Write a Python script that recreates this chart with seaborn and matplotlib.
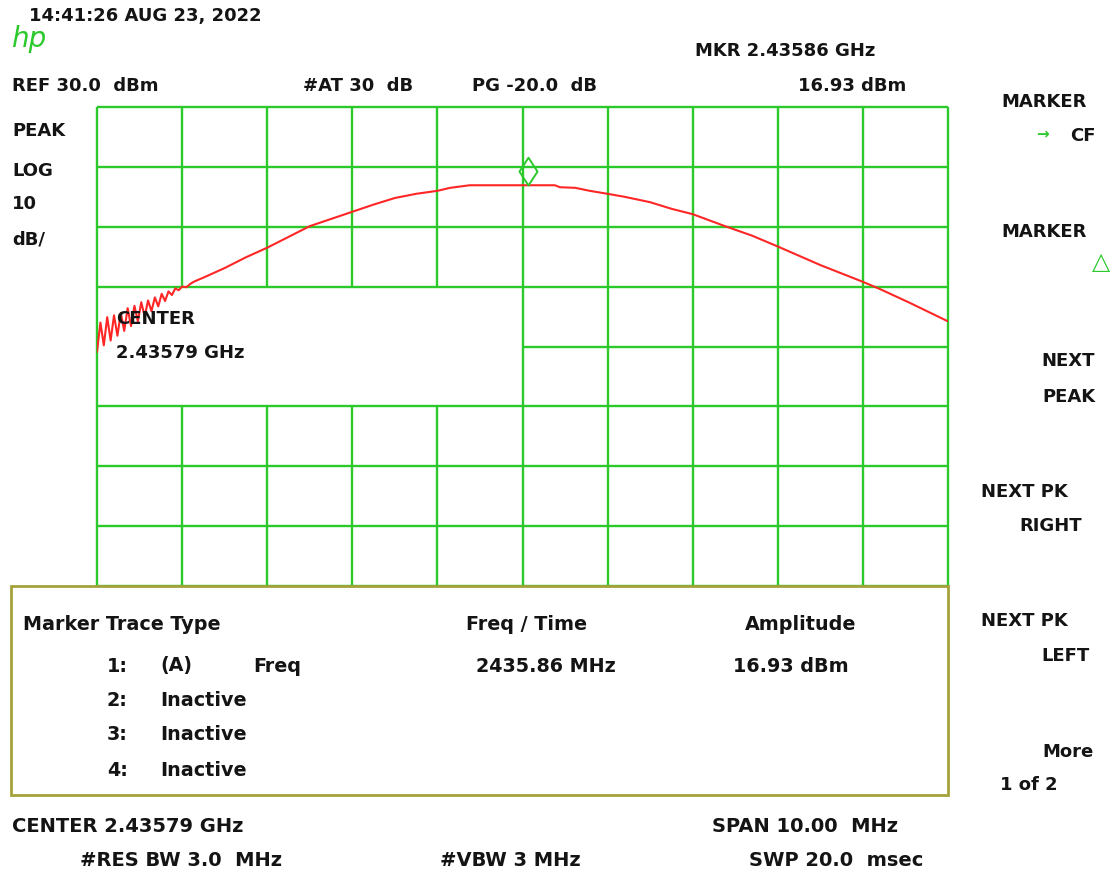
import matplotlib
matplotlib.use("Agg")
import matplotlib.pyplot as plt
import matplotlib.patches as mpatches
from matplotlib.path import Path
import numpy as np
import pandas as pd
import seaborn as sns

# ---- instrument settings ----
center_mhz = 2435.79
span_mhz = 10.0
ref_level_dbm = 30.0
db_per_div = 10.0
n_vdiv = 8
n_hdiv = 10

marker_freq_mhz = 2435.86
marker_amp_dbm = 16.93

# ---- trace (frequency offset from centre in MHz, level in dBm) ----
trace_offset_mhz = [
    -5.00, -4.96, -4.92, -4.88, -4.84, -4.80, -4.76, -4.72, -4.68, -4.64,
    -4.60, -4.56, -4.52, -4.48, -4.44, -4.40, -4.36, -4.32, -4.28, -4.24,
    -4.20, -4.16, -4.12, -4.08, -4.04, -4.00, -3.95, -3.90, -3.85, -3.75,
    -3.50, -3.25, -3.00, -2.75, -2.50, -2.25,
    -2.00, -1.75, -1.50, -1.25, -1.00, -0.85, -0.62, -0.30, 0.07, 0.38,
    0.44, 0.62, 0.79, 1.00, 1.20, 1.50, 1.75, 2.00, 2.38, 2.70,
    3.00, 3.50, 4.00, 4.20, 4.55, 5.00]
trace_dbm = [
    -10.9, -6.0, -9.8, -5.1, -9.0, -4.8, -8.2, -4.4, -7.4, -3.6,
    -6.6, -3.2, -5.8, -2.6, -5.0, -2.3, -4.1, -1.8, -3.3, -1.2,
    -2.4, -0.8, -1.4, -0.3, -0.6, 0.0, -0.1, 0.5, 0.9, 1.5,
    3.1, 4.9, 6.5, 8.3, 10.1, 11.3,
    12.5, 13.7, 14.8, 15.5, 16.0, 16.5, 16.93, 16.93, 16.93, 16.93,
    16.6, 16.5, 16.0, 15.5, 15.0, 14.1, 13.0, 12.1, 10.1, 8.5,
    6.7, 3.6, 0.8, -0.4, -2.7, -5.8]

# ---- annotation texts ----
header_texts = [
    ("14:41:26 AUG 23, 2022", 29, 16),
    ("MKR 2.43586 GHz", 695, 51),
    ("REF 30.0  dBm", 12, 86),
    ("#AT 30  dB", 303, 86),
    ("PG -20.0  dB", 472, 86),
    ("16.93 dBm", 798, 86),
    ("PEAK", 12, 131),
    ("LOG", 12, 171),
    ("10", 12, 204),
    ("dB/", 12, 240),
]
softkey_left = [
    ("MARKER", 1001, 102),
    ("MARKER", 1001, 232),
    ("NEXT PK", 981, 492),
    ("NEXT PK", 981, 621),
    ("1 of 2", 1000, 785),
]
softkey_right = [
    ("CF", 1096, 136),
    ("NEXT", 1095, 361),
    ("PEAK", 1095, 397),
    ("RIGHT", 1082, 526),
    ("LEFT", 1090, 656),
    ("More", 1094, 752),
]
table_header = [("Marker Trace Type", 23), ("Freq / Time", 466), ("Amplitude", 745)]
table_rows = [
    ("1:", "(A)", "Freq", "2435.86 MHz", "16.93 dBm"),
    ("2:", "Inactive", "", "", ""),
    ("3:", "Inactive", "", "", ""),
    ("4:", "Inactive", "", "", ""),
]
footer_texts = [
    ("CENTER 2.43579 GHz", 12, 827),
    ("SPAN 10.00  MHz", 712, 827),
    ("#RES BW 3.0  MHz", 80, 861),
    ("#VBW 3 MHz", 440, 861),
    ("SWP 20.0  msec", 749, 861),
]

GREEN = "#2bc92b"
RED = "#ff2626"
OLIVE = "#a5a23c"
INK = "#141414"

W, H = 1112, 873
sns.set_theme(style="white")
plt.rcParams["font.family"] = ["DejaVu Sans"]

fig = plt.figure(figsize=(W / 100, H / 100), dpi=100)
fig.patch.set_facecolor("white")


def fx(px):
    return px / W


def fy(py):
    return 1 - py / H


# graticule area
ax = fig.add_axes([fx(97), fy(586), fx(948) - fx(97), fy(107) - fy(586)])
ax.set_facecolor("white")
f_lo, f_hi = center_mhz - span_mhz / 2, center_mhz + span_mhz / 2
bottom = ref_level_dbm - n_vdiv * db_per_div
ax.set_xlim(f_lo, f_hi)
ax.set_ylim(bottom, ref_level_dbm)
for s in ax.spines.values():
    s.set_visible(False)
ax.set_xticks([])
ax.set_yticks([])

xdivs = np.linspace(f_lo, f_hi, n_hdiv + 1)
ydivs = np.linspace(bottom, ref_level_dbm, n_vdiv + 1)
lw_grid = 1.7
# the CENTER readout window occupies the left half between 0 and -20 dBm
win_top, win_bot = ydivs[5], ydivs[3]
for i, xv in enumerate(xdivs):
    if 0 < i < n_hdiv // 2:
        ax.vlines(xv, win_top, ref_level_dbm, color=GREEN, lw=lw_grid, zorder=1)
        ax.vlines(xv, bottom, win_bot, color=GREEN, lw=lw_grid, zorder=1)
    else:
        ax.vlines(xv, bottom, ref_level_dbm, color=GREEN, lw=lw_grid, zorder=1,
                  clip_on=False)
for j, yv in enumerate(ydivs):
    if j == 4:
        ax.hlines(yv, center_mhz, f_hi, color=GREEN, lw=lw_grid, zorder=1)
    else:
        ax.hlines(yv, f_lo, f_hi, color=GREEN, lw=lw_grid, zorder=1, clip_on=False)

df = pd.DataFrame({
    "freq": [center_mhz + o for o in trace_offset_mhz],
    "dbm": trace_dbm,
})
sns.lineplot(data=df, x="freq", y="dbm", ax=ax, color=RED, lw=1.5,
             estimator=None, sort=False, zorder=3)
ax.set_xlabel("")
ax.set_ylabel("")

# marker diamond sitting on the trace
diamond = Path([(0, 0), (-0.65, 1), (0, 2), (0.65, 1), (0, 0)],
               [Path.MOVETO, Path.LINETO, Path.LINETO, Path.LINETO, Path.CLOSEPOLY])
ax.plot([marker_freq_mhz], [marker_amp_dbm], marker=diamond, markersize=40,
        markerfacecolor="none", markeredgecolor=GREEN, markeredgewidth=1.4,
        linestyle="none", zorder=4, clip_on=False)

tk = dict(fontsize=13, fontweight="bold", color=INK, va="center")
tk_table = dict(tk, fontsize=13.8)
tk_foot = dict(tk, fontsize=14)

ax.text(0.0225, 0.558, "CENTER", transform=ax.transAxes, zorder=6, **tk)
ax.text(0.0225, 0.486, "2.43579 GHz", transform=ax.transAxes, zorder=6, **tk)

for txt, x, y in header_texts + softkey_left:
    fig.text(fx(x), fy(y), txt, ha="left", **tk)
for txt, x, y in footer_texts:
    fig.text(fx(x), fy(y), txt, ha="left", **tk_foot)
for txt, x, y in softkey_right:
    fig.text(fx(x), fy(y), txt, ha="right", **tk)

# hp logo
fig.text(fx(11), fy(39), "hp", fontsize=20, fontstyle="italic", color=GREEN,
         fontweight="light", va="center", ha="left")

# softkey glyphs
fig.text(fx(1036), fy(134), "\u2192", fontsize=11, color=GREEN,
         fontweight="bold", va="center", ha="left")
fig.text(fx(1101), fy(262), "\u25b3", fontsize=17, color=GREEN,
         va="center", ha="center")

# marker table
box = mpatches.Rectangle((fx(11), fy(795)), fx(948) - fx(11), fy(586) - fy(795),
                         transform=fig.transFigure, facecolor="none",
                         edgecolor=OLIVE, lw=2.0, zorder=5)
fig.patches.append(box)
for txt, x in table_header:
    fig.text(fx(x), fy(625), txt, ha="left", **tk_table)
row_y = [666, 701, 735, 770]
col_x = [107, 160, 253, 476, 733]
for ry, row in zip(row_y, table_rows):
    for cx, cell in zip(col_x, row):
        if cell:
            fig.text(fx(cx), fy(ry), cell, ha="left", **tk_table)

fig.savefig("out.png", dpi=100, facecolor="white")
